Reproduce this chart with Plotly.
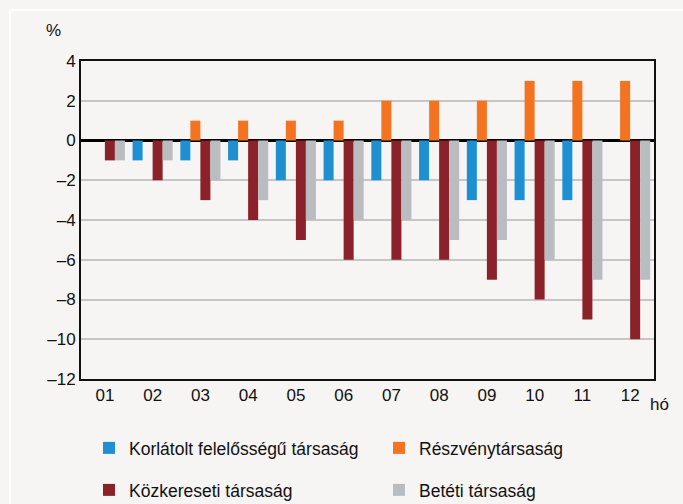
import plotly.graph_objects as go

months = ["01", "02", "03", "04", "05", "06", "07", "08", "09", "10", "11", "12"]
korlatolt = [0, -1, -1, -1, -2, -2, -2, -2, -3, -3, -3, 0]
reszveny = [0, 0, 1, 1, 1, 1, 2, 2, 2, 3, 3, 3]
kozkereseti = [-1, -2, -3, -4, -5, -6, -6, -6, -7, -8, -9, -10]
beteti = [-1, -1, -2, -3, -4, -4, -4, -5, -5, -6, -7, -7]

y_ticks = [4, 2, 0, -2, -4, -6, -8, -10, -12]
y_ticktext = ["4", "2", "0", "–2", "–4", "–6", "–8", "–10", "–12"]

FONT = "Liberation Sans, Arial, sans-serif"
BG = "#f6f5f3"

series = [
    ("Korlátolt felelősségű társaság", korlatolt, "#1f8fd2", "legend"),
    ("Részvénytársaság", reszveny, "#f47321", "legend2"),
    ("Közkereseti társaság", kozkereseti, "#8b2229", "legend3"),
    ("Betéti társaság", beteti, "#b9bcc0", "legend4"),
]

fig = go.Figure()
for name, vals, col, lg in series:
    fig.add_trace(go.Bar(x=months, y=vals, name=name, marker=dict(color=col, line=dict(width=0)),
                         legend=lg))

leg_common = dict(orientation="h", xref="container", yref="container", xanchor="left",
                  yanchor="middle", font=dict(size=17.5, family=FONT),
                  bgcolor="rgba(0,0,0,0)")

fig.update_layout(
    width=683, height=504,
    margin=dict(l=81, r=29, t=61, b=125),
    paper_bgcolor=BG, plot_bgcolor=BG,
    font=dict(family=FONT, size=17, color="#111111"),
    barmode="group", bargap=0.16, bargroupgap=0,
    showlegend=True,
    legend=dict(x=89 / 683, y=1 - 448 / 504, **leg_common),
    legend2=dict(x=379 / 683, y=1 - 448 / 504, **leg_common),
    legend3=dict(x=89 / 683, y=1 - 490 / 504, **leg_common),
    legend4=dict(x=379 / 683, y=1 - 490 / 504, **leg_common),
    xaxis=dict(showline=True, linecolor="#111111", linewidth=2, mirror=True,
               ticks="", tickfont=dict(size=17), showgrid=False),
    yaxis=dict(range=[-12, 4], tickvals=y_ticks, ticktext=y_ticktext,
               showline=True, linecolor="#111111", linewidth=2, mirror=True,
               showgrid=True, gridcolor="#c6c6c6", gridwidth=2,
               zeroline=True, zerolinecolor="#000000", zerolinewidth=3,
               ticks="", tickfont=dict(size=17)),
    shapes=[
        dict(type="line", xref="paper", yref="paper", x0=(10 - 81) / 573, x1=(683 - 81) / 573,
             y0=(379 - 10) / 318, y1=(379 - 10) / 318, line=dict(color="#ffffff", width=2), layer="below"),
        dict(type="line", xref="paper", yref="paper", x0=(10 - 81) / 573, x1=(10 - 81) / 573,
             y0=(379 - 10) / 318, y1=(379 - 504) / 318, line=dict(color="#ffffff", width=2), layer="below"),
    ],
    annotations=[
        dict(text="%", xref="paper", yref="paper", x=(63 - 81) / 573, y=(379 - 42) / 318,
             showarrow=False, xanchor="right", yanchor="bottom", font=dict(size=17, family=FONT)),
        dict(text="hó", xref="paper", yref="paper", x=(648 - 81) / 573, y=(379 - 393) / 318,
             showarrow=False, xanchor="left", yanchor="top", font=dict(size=17, family=FONT)),
    ],
)
fig.write_html("out.html", post_script="document.body.style.margin='0';",
               config={"displayModeBar": False})
